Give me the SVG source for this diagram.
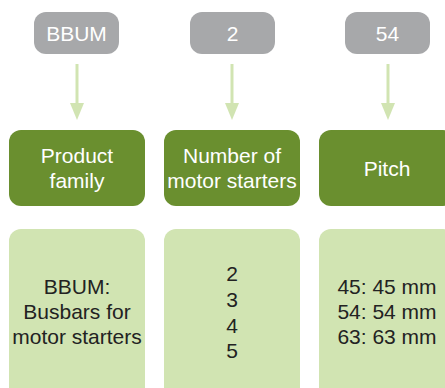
<svg xmlns="http://www.w3.org/2000/svg" width="445" height="388" viewBox="0 0 445 388">
<style>
.code{fill:#a7a8aa}
.head{fill:#6a8f2f}
.val{fill:#d1e4b2}
.t{font-family:"Liberation Sans",Arial,sans-serif;font-size:21px;text-anchor:middle}
.w{fill:#ffffff}
.d{fill:#222222}
.ln{stroke:#d1e4b2;stroke-width:3;fill:none}
.ah{fill:#d1e4b2}
</style>
<rect width="445" height="388" fill="#ffffff"/>
<g id="code-bbum"><rect class="code" x="34" y="12" width="85" height="42" rx="12"/><text class="t w" x="76.5" y="41">BBUM</text></g>
<g id="code-2"><rect class="code" x="190" y="12" width="85" height="42" rx="12"/><text class="t w" x="232.5" y="41">2</text></g>
<g id="code-54"><rect class="code" x="345" y="12" width="85" height="42" rx="12"/><text class="t w" x="387.5" y="41">54</text></g>
<g id="connectors">
<line class="ln" x1="77" y1="64" x2="77" y2="105"/><polygon class="ah" points="70,103 84,103 77,120"/>
<line class="ln" x1="232" y1="64" x2="232" y2="105"/><polygon class="ah" points="225,103 239,103 232,120"/>
<line class="ln" x1="388" y1="64" x2="388" y2="105"/><polygon class="ah" points="381,103 395,103 388,120"/>
</g>
<g id="head-family"><rect class="head" x="9" y="130" width="136" height="76" rx="12"/><text class="t w" x="77" y="163">Product</text><text class="t w" x="77" y="188">family</text></g>
<g id="head-number"><rect class="head" x="164" y="130" width="136" height="76" rx="12"/><text class="t w" x="232" y="163">Number of</text><text class="t w" x="232" y="188">motor starters</text></g>
<g id="head-pitch"><rect class="head" x="319" y="130" width="136" height="76" rx="12"/><text class="t w" x="387" y="176">Pitch</text></g>
<g id="val-family"><rect class="val" x="9" y="229" width="136" height="175" rx="12"/><text class="t d" x="77" y="294">BBUM:</text><text class="t d" x="77" y="319">Busbars for</text><text class="t d" x="77" y="344">motor starters</text></g>
<g id="val-number"><rect class="val" x="164" y="229" width="136" height="175" rx="12"/><text class="t d" x="232" y="281">2</text><text class="t d" x="232" y="307">3</text><text class="t d" x="232" y="332.5">4</text><text class="t d" x="232" y="358">5</text></g>
<g id="val-pitch"><rect class="val" x="319" y="229" width="136" height="175" rx="12"/><text class="t d" x="387" y="294">45: 45 mm</text><text class="t d" x="387" y="319">54: 54 mm</text><text class="t d" x="387" y="344">63: 63 mm</text></g>
</svg>
